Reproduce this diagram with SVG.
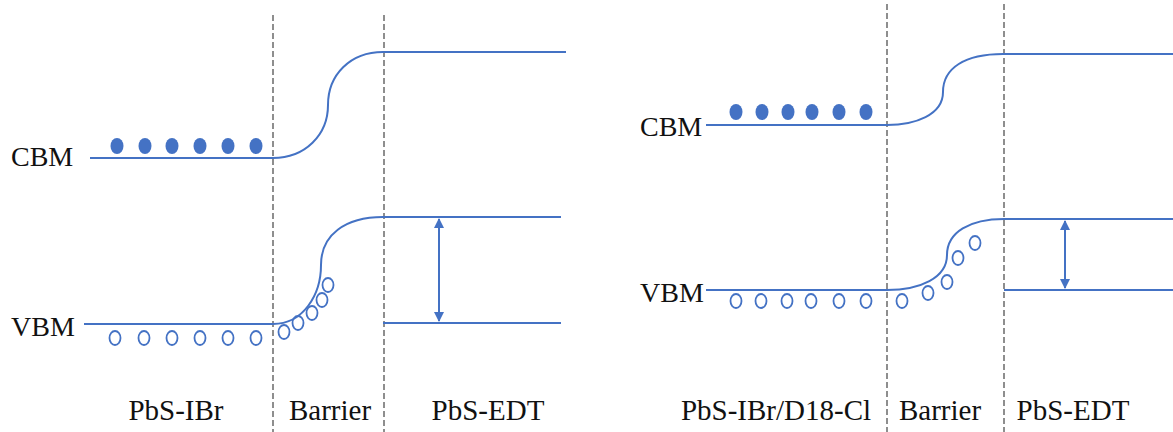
<svg xmlns="http://www.w3.org/2000/svg" width="1173" height="432" viewBox="0 0 1173 432">
<style>
.band{fill:none;stroke:#4472C4;stroke-width:2}
.div{stroke:#444;stroke-width:1.2;stroke-dasharray:6,3}
.e{fill:#4472C4}
.h{fill:none;stroke:#4472C4;stroke-width:1.8}
.lbl{font-family:'Liberation Serif','Times New Roman','DejaVu Serif',Times,serif;font-size:28px;fill:#111}
.big{font-size:29px}
.arr{stroke:#4472C4;stroke-width:2;marker-start:url(#ah);marker-end:url(#ah)}
</style>
<defs>
<marker id="ah" viewBox="0 0 10 10" refX="9" refY="5" markerWidth="5" markerHeight="5" orient="auto-start-reverse" markerUnits="strokeWidth">
<path d="M0,0 L10,5 L0,10 z" fill="#4472C4"/>
</marker>
</defs>
<rect width="1173" height="432" fill="#fff"/>

<g id="dividers">
<line class="div" x1="273" y1="15" x2="273" y2="432"/>
<line class="div" x1="384" y1="15" x2="384" y2="432"/>
<line class="div" x1="887" y1="4" x2="887" y2="432"/>
<line class="div" x1="1004" y1="4" x2="1004" y2="432"/>
</g>

<g id="left-cbm">
<text class="lbl" x="11" y="166">CBM</text>
<path class="band" d="M90,158 L273,158 C305,158 328,135 328,105 C328,75 350,52 383,52 L566,52"/>
<ellipse class="e" cx="117" cy="146" rx="6.5" ry="8"/>
<ellipse class="e" cx="145" cy="146" rx="6.5" ry="8"/>
<ellipse class="e" cx="172" cy="146" rx="6.5" ry="8"/>
<ellipse class="e" cx="200" cy="146" rx="6.5" ry="8"/>
<ellipse class="e" cx="228" cy="146" rx="6.5" ry="8"/>
<ellipse class="e" cx="256" cy="146" rx="6.5" ry="8"/>
</g>

<g id="left-vbm">
<text class="lbl" x="11" y="336">VBM</text>
<path class="band" d="M84,324 L273,324 C303,324 321,295 321,265 C321,235 345,217 383,217 L561,217"/>
<line class="band" x1="383" y1="323" x2="561" y2="323"/>
<ellipse class="h" cx="115" cy="338" rx="5.5" ry="7"/>
<ellipse class="h" cx="144" cy="338" rx="5.5" ry="7"/>
<ellipse class="h" cx="172" cy="338" rx="5.5" ry="7"/>
<ellipse class="h" cx="200" cy="338" rx="5.5" ry="7"/>
<ellipse class="h" cx="228" cy="338" rx="5.5" ry="7"/>
<ellipse class="h" cx="256" cy="338" rx="5.5" ry="7"/>
<ellipse class="h" cx="284" cy="332" rx="5.5" ry="7"/>
<ellipse class="h" cx="298" cy="323" rx="5.5" ry="7"/>
<ellipse class="h" cx="312" cy="313" rx="5.5" ry="7"/>
<ellipse class="h" cx="322" cy="300" rx="5.5" ry="7"/>
<ellipse class="h" cx="328" cy="285" rx="5.5" ry="7"/>
</g>

<g id="left-labels">
<text class="lbl big" x="176" y="420" text-anchor="middle">PbS-IBr</text>
<text class="lbl big" x="330" y="420" text-anchor="middle">Barrier</text>
<text class="lbl big" x="488" y="420" text-anchor="middle">PbS-EDT</text>
</g>

<g id="right-cbm">
<text class="lbl" x="640" y="136">CBM</text>
<path class="band" d="M706,125 L887,125 C915,125 943,115 943,92 C943,68 965,54 1003,54 L1173,54"/>
<ellipse class="e" cx="736" cy="112" rx="6.5" ry="8"/>
<ellipse class="e" cx="762" cy="112" rx="6.5" ry="8"/>
<ellipse class="e" cx="788" cy="112" rx="6.5" ry="8"/>
<ellipse class="e" cx="812" cy="112" rx="6.5" ry="8"/>
<ellipse class="e" cx="839" cy="112" rx="6.5" ry="8"/>
<ellipse class="e" cx="866" cy="112" rx="6.5" ry="8"/>
</g>

<g id="right-vbm">
<text class="lbl" x="640" y="302">VBM</text>
<path class="band" d="M706,290 L887,290 C920,290 947,278 947,255 C947,232 970,219 1004,219 L1173,219"/>
<line class="band" x1="1004" y1="290" x2="1173" y2="290"/>
<ellipse class="h" cx="736" cy="301" rx="5.5" ry="7"/>
<ellipse class="h" cx="761" cy="301" rx="5.5" ry="7"/>
<ellipse class="h" cx="787" cy="301" rx="5.5" ry="7"/>
<ellipse class="h" cx="811" cy="301" rx="5.5" ry="7"/>
<ellipse class="h" cx="839" cy="301" rx="5.5" ry="7"/>
<ellipse class="h" cx="866" cy="301" rx="5.5" ry="7"/>
<ellipse class="h" cx="902" cy="301" rx="5.5" ry="7"/>
<ellipse class="h" cx="928" cy="293" rx="5.5" ry="7"/>
<ellipse class="h" cx="947" cy="282" rx="5.5" ry="7"/>
<ellipse class="h" cx="958" cy="258" rx="5.5" ry="7"/>
<ellipse class="h" cx="975" cy="243" rx="5.5" ry="7"/>
</g>

<g id="right-labels">
<text class="lbl big" x="776" y="420" text-anchor="middle">PbS-IBr/D18-Cl</text>
<text class="lbl big" x="940" y="420" text-anchor="middle">Barrier</text>
<text class="lbl big" x="1073" y="420" text-anchor="middle">PbS-EDT</text>
</g>

<g id="connectors">
<line class="arr" x1="439" y1="219" x2="439" y2="321"/>
<line class="arr" x1="1065" y1="221" x2="1065" y2="288"/>
</g>
</svg>
